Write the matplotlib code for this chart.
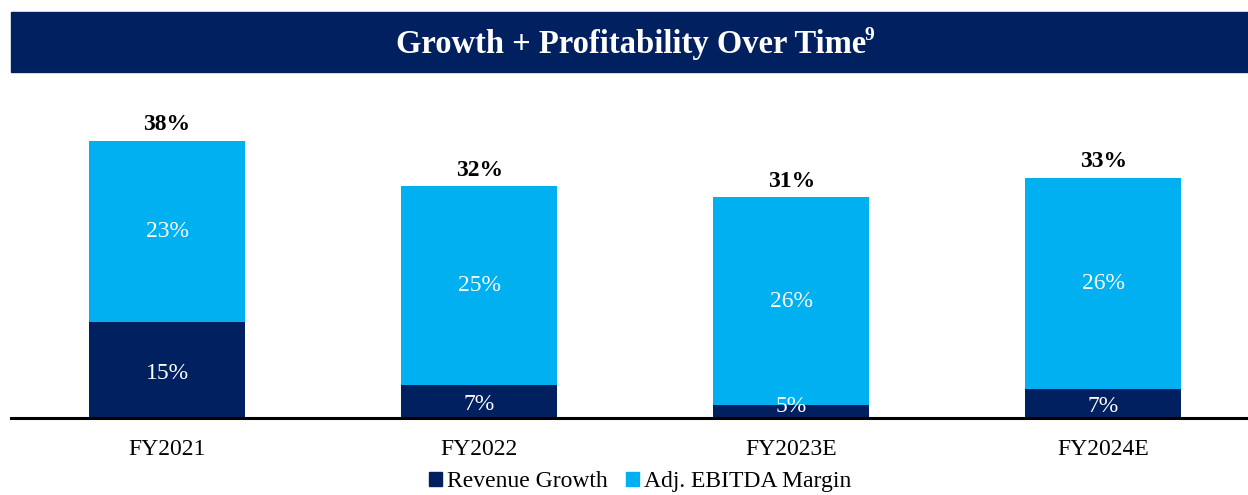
import numpy as np
import matplotlib
matplotlib.use("Agg")
import matplotlib.pyplot as plt
from matplotlib.patches import Patch, Rectangle

plt.rcParams['font.family'] = ['Liberation Serif', 'DejaVu Serif']

# data (bar heights as drawn, labels as printed)
years = ['FY2021', 'FY2022', 'FY2023E', 'FY2024E']
rev_growth = [13.2, 4.6, 1.8, 4.0]
ebitda_margin = [25.1, 27.4, 28.7, 29.2]
rev_labels = ['15%', '7%', '5%', '7%']
ebitda_labels = ['23%', '25%', '26%', '26%']
total_labels = ['38%', '32%', '31%', '33%']

navy = '#002060'
cyan = '#00B0F0'

fig = plt.figure(figsize=(12.48, 4.95), dpi=100)

# title banner
fig.patches.append(Rectangle((11/1248, 1-72/495), 1-11/1248, 60/495,
                             transform=fig.transFigure, color=navy, zorder=0))
fig.text(0.506, 1-45/495, 'Growth + Profitability Over Time',
         color='white', fontsize=23.5, fontweight='bold', ha='center', va='center')
fig.text(0.6925, 1-36/495, '9', color='white', fontsize=14, fontweight='bold',
         ha='left', va='center')

ax = fig.add_axes([11/1248, 1-418/495, 1236/1248, 318/495])
x = np.arange(len(years))
w = 0.5
ax.bar(x, rev_growth, w, color=navy, zorder=2)
ax.bar(x, ebitda_margin, w, bottom=rev_growth, color=cyan, zorder=2)

for i in range(len(years)):
    ax.text(x[i], max(rev_growth[i]/2 - 0.5, 1.55), rev_labels[i],
            color='white', ha='center', va='center', fontsize=17)
    ax.text(x[i], rev_growth[i] + ebitda_margin[i]/2, ebitda_labels[i],
            color='white', ha='center', va='center', fontsize=17)
    ax.annotate(total_labels[i], (x[i], rev_growth[i] + ebitda_margin[i]),
                xytext=(0, 4), textcoords='offset points', ha='center', va='bottom',
                fontsize=17, fontweight='bold')

ax.set_xlim(-0.5, 3.46)
ax.set_ylim(0, 43.9)
ax.set_xticks(x)
ax.set_xticklabels(years, fontsize=17)
ax.tick_params(axis='x', length=0, pad=15)
ax.set_yticks([])
for s in ['top', 'right', 'left']:
    ax.spines[s].set_visible(False)
ax.spines['bottom'].set_linewidth(2.2)
ax.spines['bottom'].set_zorder(3)

handles = [Patch(color=navy, label='Revenue Growth'),
           Patch(color=cyan, label='Adj. EBITDA Margin')]
fig.legend(handles=handles, loc='center', bbox_to_anchor=(0.513, 0.027), ncol=2,
           frameon=False, fontsize=17, handlelength=0.55, handleheight=0.55,
           handletextpad=0.2, columnspacing=0.8, borderpad=0)

fig.savefig('out.png', dpi=100)
